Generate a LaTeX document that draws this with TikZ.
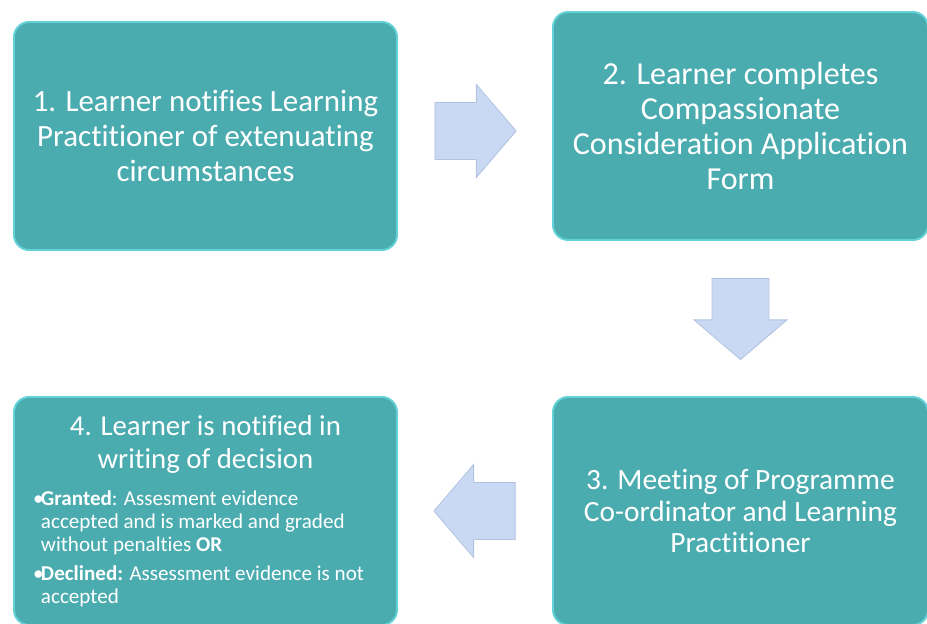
\documentclass[tikz,border=0pt]{standalone}
\usepackage{fontspec}
\setmainfont{Carlito}[Ligatures=NoCommon]
\usetikzlibrary{positioning}
\usetikzlibrary{calc}
\usetikzlibrary{shapes.arrows}

\definecolor{stepteal}{HTML}{4BACB0}
\definecolor{stepedge}{HTML}{62D2D6}
\definecolor{arrowfill}{HTML}{CAD9F3}
\definecolor{arrowedge}{HTML}{B2C3E2}

\newcommand{\bulletitem}[1]{\par\hangindent=0.2cm\hangafter=1\noindent\makebox[0.2cm][l]{\textbullet}#1\par}

\begin{document}
\begin{tikzpicture}[
        every node/.style={font=\fontsize{22}{24.8}\selectfont, text=white},
        stepbox/.style={rounded corners=0.38cm, fill=stepteal, draw=stepedge, line width=1.4pt, align=center, minimum height=5.7cm},
        blockarrow/.style={single arrow, anchor=tail, fill=arrowfill, draw=arrowedge, line width=0.6pt, minimum height=2.025cm, minimum width=2.325cm, single arrow head extend=0.45cm, single arrow tip angle=99, inner sep=0.7cm}
    ]

        \def\HalfArrow{1.0125}

        \useasboundingbox (0,0) rectangle (23.175,-15.575);
        \clip (0,0) rectangle (23.175,-15.575);

        % -------------------------------------------------
        % 1. Learner notifies
        % -------------------------------------------------
        \node[stepbox, minimum width=9.575cm] (box1) at (5.1375,-3.4)
            {1. Learner notifies Learning\\ Practitioner of extenuating\\ circumstances};

        % -------------------------------------------------
        % 2. Application form
        % -------------------------------------------------
        \node[stepbox, minimum width=9.375cm, font=\fontsize{22.8}{24.8}\selectfont] (box2) at (18.5125,-3.15)
            {2. Learner completes\\ Compassionate\\ Consideration Application\\ Form};

        % -------------------------------------------------
        % 3. Meeting
        % -------------------------------------------------
        \node[stepbox, minimum width=9.375cm, font=\fontsize{20.9}{22.7}\selectfont] (box3) at (18.5125,-12.775)
            {3. Meeting of Programme\\ Co-ordinator and Learning\\ Practitioner};

        % -------------------------------------------------
        % 4. Decision
        % -------------------------------------------------
        \node[stepbox, minimum width=9.575cm] (box4) at (5.1375,-12.775) {%
            \parbox{8.625cm}{%
            \parindent=0pt
            {\centering\fontsize{20.5}{23.4}\selectfont 4. Learner is notified in\\ writing of decision\par}
            \vspace{10pt}
            {\raggedright\fontsize{15}{16.3}\selectfont
            \bulletitem{\textbf{Granted}: Assesment evidence\newline accepted and is marked and graded\newline without penalties \textbf{OR}}
            \vspace{4.5pt}
            \bulletitem{\textbf{Declined:} Assessment evidence is not\newline accepted}}}%
        };

        % Flechas
        \node[blockarrow] (arr12) at ($(box1.east)!0.5!(box2.west)+(-\HalfArrow,0)$) {};
        \node[blockarrow, rotate=-90] (arr23) at ($(box2.south)!0.5!(box3.north)+(0,\HalfArrow)$) {};
        \node[blockarrow, rotate=180] (arr34) at ($(box3.west)!0.5!(box4.east)+(\HalfArrow,0)$) {};

    \end{tikzpicture}
\end{document}
